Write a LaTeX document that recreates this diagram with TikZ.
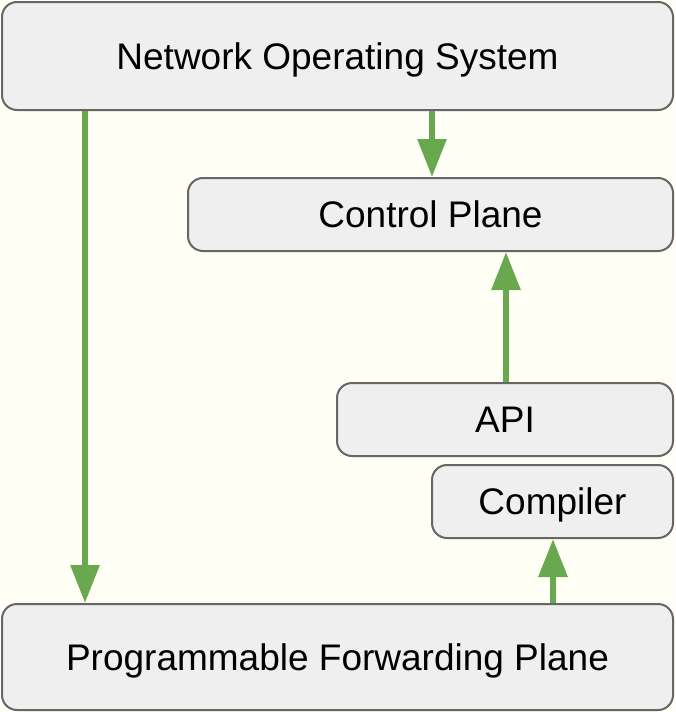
\documentclass[tikz,border=0pt]{standalone}
\usepackage{fontspec}
\setmainfont{Liberation Sans}
\usetikzlibrary{arrows.meta}
\definecolor{bg}{HTML}{FFFFF6}
\definecolor{boxfill}{HTML}{EFEFEF}
\definecolor{boxline}{HTML}{666666}
\definecolor{arrgreen}{HTML}{6AA84F}
\tikzset{
  blk/.style={draw=boxline, line width=2pt, fill=boxfill, rounded corners=15pt,
    inner sep=0pt, text height=26.5pt, text depth=0pt,
    font=\fontsize{37}{44}\selectfont, text=black},
  arr/.style={draw=arrgreen, line width=6pt, -{Triangle[width=28pt,length=38pt]}}
}
\begin{document}
\begin{tikzpicture}[x=1pt,y=-1pt]
\fill[bg] (0,0) rectangle (675,712);
\useasboundingbox (0,0) rectangle (675,712);
\node[blk, minimum width=671pt, minimum height=108pt] (nos) at (337.5,56) {Network Operating System};
\node[blk, minimum width=485pt, minimum height=73pt] (cp) at (430.5,214.5) {Control Plane};
\node[blk, minimum width=336pt, minimum height=73pt] (api) at (505,419.5) {API};
\node[blk, minimum width=241pt, minimum height=73pt] (comp) at (552.5,501.5) {Compiler};
\node[blk, minimum width=671pt, minimum height=106pt] (pfp) at (337.5,657) {Programmable Forwarding Plane};
\draw[arr] ([xshift=-252.5pt]nos.south) -- ([xshift=-252.5pt]pfp.north);
\draw[arr] ([xshift=94.5pt]nos.south) -- ([xshift=1.5pt]cp.north);
\draw[arr] ([xshift=1pt]api.north) -- ([xshift=75.5pt]cp.south);
\draw[arr] ([xshift=215.5pt]pfp.north) -- ([xshift=0.5pt]comp.south);
\end{tikzpicture}
\end{document}
